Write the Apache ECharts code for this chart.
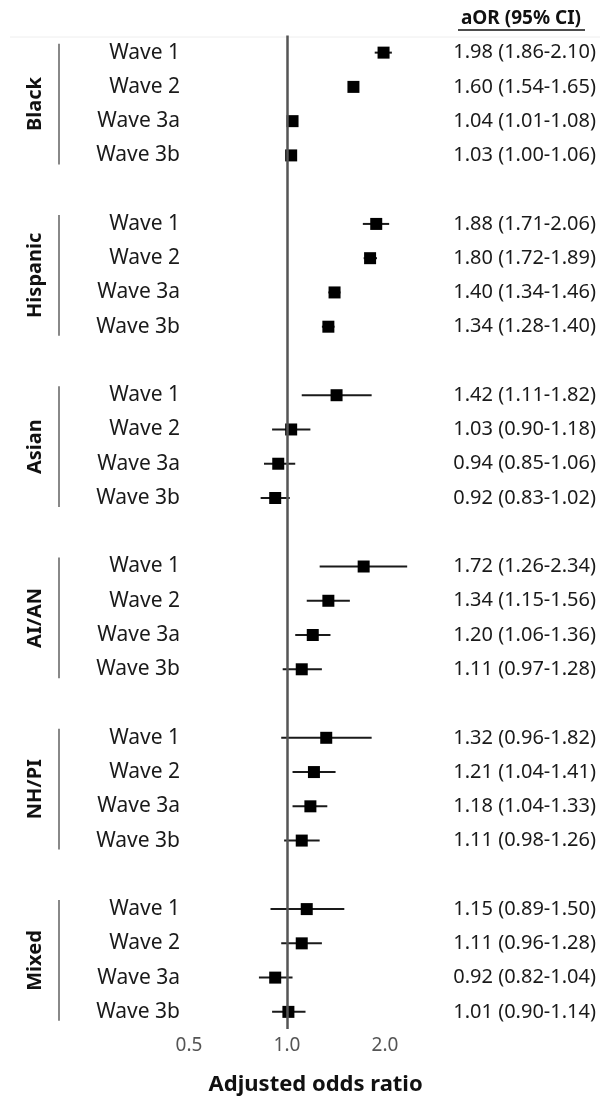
<!DOCTYPE html>
<html><head><meta charset="utf-8">
<script src="https://cdn.jsdelivr.net/npm/echarts@6/dist/echarts.min.js"></script>
<style>html,body{margin:0;padding:0;background:#fff}#c{width:603px;height:1101px}</style>
</head><body><div id="c"></div>
<script>
const groups = ['Black', 'Hispanic', 'Asian', 'AI/AN', 'NH/PI', 'Mixed'];
const waves = ['Wave 1', 'Wave 2', 'Wave 3a', 'Wave 3b'];
const aor = [
  [1.98, 1.60, 1.04, 1.03],
  [1.88, 1.80, 1.40, 1.34],
  [1.42, 1.03, 0.94, 0.92],
  [1.72, 1.34, 1.20, 1.11],
  [1.32, 1.21, 1.18, 1.11],
  [1.15, 1.11, 0.92, 1.01]
];
const ciLow = [
  [1.86, 1.54, 1.01, 1.00],
  [1.71, 1.72, 1.34, 1.28],
  [1.11, 0.90, 0.85, 0.83],
  [1.26, 1.15, 1.06, 0.97],
  [0.96, 1.04, 1.04, 0.98],
  [0.89, 0.96, 0.82, 0.90]
];
const ciHigh = [
  [2.10, 1.65, 1.08, 1.06],
  [2.06, 1.89, 1.46, 1.40],
  [1.82, 1.18, 1.06, 1.02],
  [2.34, 1.56, 1.36, 1.28],
  [1.82, 1.41, 1.33, 1.26],
  [1.50, 1.28, 1.04, 1.14]
];
const xTicks = [0.5, 1.0, 2.0];
const refValue = 1.0;
const headerText = 'aOR (95% CI)';
const xTitle = 'Adjusted odds ratio';

const FONT = '"Noto Sans", sans-serif';
const nSlots = groups.length * (waves.length + 1) - 1;
const leftLabels = new Array(nSlots).fill('');
const rightLabels = new Array(nSlots).fill('');
const pts = [], bars = [];
groups.forEach((g, gi) => {
  waves.forEach((w, wi) => {
    const s = gi * (waves.length + 1) + wi;
    leftLabels[s] = w;
    rightLabels[s] = aor[gi][wi].toFixed(2) + ' (' + ciLow[gi][wi].toFixed(2) + '-' + ciHigh[gi][wi].toFixed(2) + ')';
    pts.push([aor[gi][wi], s]);
    bars.push([ciLow[gi][wi], ciHigh[gi][wi], s]);
  });
});
const cats = leftLabels.map((_, i) => String(i));

const chart = echarts.init(document.getElementById('c'), null, {renderer: 'canvas'});
const option = {
  animation: false,
  backgroundColor: '#fff',
  grid: {left: 189, right: 160.7, top: 35.5, bottom: 69.5},
  xAxis: {
    type: 'log', logBase: 2, min: 0.5, max: 3,
    axisLine: {show: false}, axisTick: {show: false}, splitLine: {show: false},
    axisLabel: {customValues: xTicks, formatter: v => Number(v).toFixed(1), color: '#555', fontFamily: FONT, fontSize: 19, margin: 7},
    name: xTitle, nameLocation: 'middle', nameGap: 45,
    nameTextStyle: {fontFamily: FONT, fontSize: 22, fontWeight: 'bold', color: '#111'}
  },
  yAxis: [{
    type: 'category', data: cats, inverse: true,
    axisLine: {show: false}, axisTick: {show: false}, splitLine: {show: false},
    axisLabel: {formatter: (v, i) => leftLabels[i], color: '#1a1a1a', fontFamily: FONT, fontSize: 21, margin: 9}
  }, {
    type: 'category', data: cats, inverse: true, position: 'right',
    axisLine: {show: false}, axisTick: {show: false}, splitLine: {show: false},
    axisLabel: {formatter: (v, i) => rightLabels[i], color: '#1a1a1a', fontFamily: FONT, fontSize: 20, margin: 11, align: 'left'}
  }],
  series: [{
    type: 'custom', name: 'CI', data: bars, encode: {x: [0, 1], y: 2},
    renderItem: (params, api) => {
      const a = api.coord([api.value(0), api.value(2)]);
      const b = api.coord([api.value(1), api.value(2)]);
      return {type: 'line', shape: {x1: a[0], y1: a[1], x2: b[0], y2: b[1]},
        style: {stroke: '#1a1a1a', lineWidth: 2}};
    },
    z: 3
  }, {
    type: 'scatter', name: 'aOR', data: pts, symbol: 'rect', symbolSize: 12,
    itemStyle: {color: '#000', opacity: 1}, z: 4,
    markLine: {
      silent: true, symbol: 'none', label: {show: false},
      lineStyle: {color: '#555', width: 2.5, type: 'solid', opacity: 1},
      data: [{xAxis: refValue}]
    }
  }]
};
chart.setOption(option);

const gfx = [];
groups.forEach((g, gi) => {
  const s0 = gi * (waves.length + 1);
  const y0 = chart.convertToPixel({yAxisIndex: 0}, String(s0));
  const y1 = chart.convertToPixel({yAxisIndex: 0}, String(s0 + waves.length - 1));
  gfx.push({type: 'line', shape: {x1: 59, y1: y0 - 9, x2: 59, y2: y1 + 9},
    style: {stroke: '#888', lineWidth: 2}});
  gfx.push({type: 'text', x: 35, y: (y0 + y1) / 2, rotation: Math.PI / 2,
    style: {text: g, font: 'bold 20px ' + FONT, fill: '#111', align: 'center', verticalAlign: 'middle',
      textAlign: 'center', textVerticalAlign: 'middle'}});
});
gfx.push({type: 'text', x: 521, y: 19,
  style: {text: headerText, font: 'bold 19px ' + FONT, fill: '#111', align: 'center', verticalAlign: 'middle',
    textAlign: 'center', textVerticalAlign: 'middle'}});
gfx.push({type: 'line', shape: {x1: 458, y1: 30, x2: 585, y2: 30}, style: {stroke: '#111', lineWidth: 1.5}});
gfx.push({type: 'line', shape: {x1: 10, y1: 37, x2: 600, y2: 37}, style: {stroke: '#eeeeee', lineWidth: 1}});
chart.setOption({graphic: gfx});
</script></body></html>
